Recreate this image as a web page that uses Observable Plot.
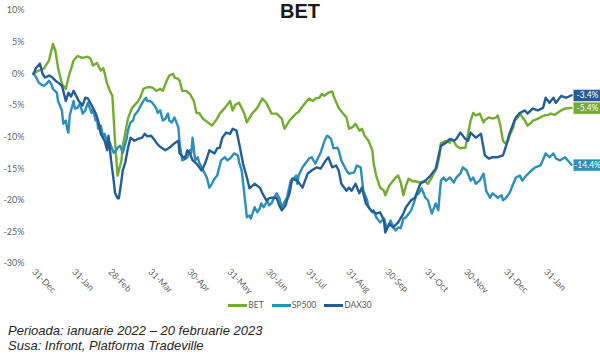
<!DOCTYPE html>
<html>
<head>
<meta charset="utf-8">
<script src="https://cdn.jsdelivr.net/npm/d3@7"></script>
<script src="https://cdn.jsdelivr.net/npm/@observablehq/plot@0.6"></script>
<style>
  body { margin: 0; background: #fff; width: 600px; height: 355px; overflow: hidden; position: relative; }
  #title { position: absolute; top: -1px; left: 0; width: 600px; text-align: center; font: bold 20px "Liberation Sans", Arial, sans-serif; color: #1a1a1a; line-height: 24px; }
  #chart { position: absolute; top: 0; left: 0; }
  #legend { position: absolute; top: 297px; left: 0; width: 600px; height: 16px; display: flex; justify-content: center; align-items: center; gap: 8px; font: 8.5px Lato, "Open Sans", sans-serif; color: #595959; }
  #legend .item { display: flex; align-items: center; }
  #legend .sw { display: inline-block; width: 19px; height: 3px; margin-right: 1px; }
  #caption { position: absolute; top: 323px; left: 8px; font: italic 13px "Liberation Sans", Arial, sans-serif; color: #262626; line-height: 15px; }
</style>
</head>
<body>
<div id="chart"></div>
<div id="title">BET</div>
<div id="legend"></div>
<div id="caption">Perioada: ianuarie 2022 – 20 februarie 2023<br>Susa: Infront, Platforma Tradeville</div>
<script>
// Series names and colours
const seriesNames = ["BET", "SP500", "DAX30"];
const seriesColors = ["#72AD2F", "#2B8FBA", "#255D98"];

// Values: [days since 31-Dec-2021, % change]
const betData = [[0,0],[4,0.5],[8,0.8],[12,2.1],[15,4.7],[17,3.6],[19,0.9],[22,-1.6],[25,-2.4],[27,-0.6],[31,2.1],[34,2.8],[38,2.5],[42,2.7],[44,2.4],[46,1.3],[49,1.7],[52,0.5],[54,0.9],[57,-1.6],[59,-2.7],[61,-3.5],[63,-10.6],[65,-16.1],[68,-13.7],[69,-11.4],[72,-8.2],[73,-7.1],[76,-5.5],[78,-5.0],[81,-4.3],[83,-3.5],[85,-2.4],[87,-2.2],[90,-2.1],[92,-2.2],[95,-2.7],[98,-2.4],[100,-2.7],[103,-1.1],[105,-0.3],[108,0],[109,-0.6],[112,-0.8],[113,-1.1],[115,-2.7],[118,-2.7],[121,-3.2],[124,-4.3],[126,-6.2],[128,-6.2],[131,-7.1],[135,-7.7],[138,-8.2],[142,-7.1],[144,-6.3],[148,-5.4],[152,-4.3],[154,-5.8],[156,-4.9],[159,-4.6],[163,-6.3],[165,-7.7],[169,-6.3],[173,-5.4],[177,-3.9],[180,-4.6],[184,-6.3],[188,-6.3],[192,-7.1],[194,-8.7],[198,-7.4],[203,-6.3],[205,-6.0],[209,-4.9],[213,-3.9],[216,-4.3],[218,-3.9],[221,-3.8],[223,-3.2],[225,-3.5],[228,-3.0],[231,-2.8],[232,-3.5],[236,-5.4],[239,-6.2],[242,-6.9],[244,-8.7],[247,-8.4],[249,-7.9],[252,-9.0],[254,-8.7],[256,-9.8],[259,-10.6],[262,-12.1],[263,-14.2],[265,-16.1],[268,-18.0],[271,-18.5],[272,-19.2],[275,-17.7],[277,-17.2],[280,-16.4],[282,-16.1],[284,-17.2],[286,-19.2],[288,-17.7],[290,-16.6],[293,-17.0],[295,-17.0],[299,-17.2],[303,-17.0],[305,-17.4],[308,-16.4],[310,-15.6],[312,-14.8],[314,-12.9],[315,-11.0],[318,-10.7],[319,-10.6],[322,-10.9],[323,-10.3],[325,-10.7],[327,-11.4],[330,-11.8],[332,-11.7],[334,-11.7],[336,-9.5],[338,-7.4],[340,-6.2],[342,-6.6],[345,-6.3],[348,-7.7],[349,-7.3],[352,-6.9],[355,-7.1],[358,-6.9],[359,-6.6],[361,-8.2],[362,-9.5],[363,-10.6],[365,-11.0],[367,-10.6],[368,-9.8],[371,-8.5],[372,-7.4],[375,-6.8],[376,-6.2],[378,-6.9],[380,-7.4],[382,-8.2],[385,-7.7],[386,-7.4],[388,-7.3],[390,-7.1],[392,-6.9],[395,-6.6],[398,-6.5],[400,-6.3],[403,-6.5],[405,-6.2],[408,-5.8],[411,-5.5],[416,-5.4]];

const sp500Data = [[0,0],[2,-0.5],[4,-1.4],[6,-1.7],[8,-1.9],[10,-1.6],[12,-1.1],[14,-1.7],[15,-2.4],[18,-3.0],[19,-4.3],[22,-5.8],[23,-7.9],[25,-7.4],[26,-8.7],[27,-9.3],[28,-6.6],[31,-4.3],[32,-5.5],[34,-5.4],[36,-4.7],[38,-6.3],[40,-5.8],[42,-4.6],[45,-6.2],[46,-5.5],[48,-7.4],[49,-6.9],[50,-8.7],[52,-8.2],[54,-10.1],[55,-9.5],[58,-11.4],[59,-10.9],[62,-12.5],[64,-12.1],[65,-11.7],[67,-11.4],[69,-12.5],[72,-10.3],[73,-9.0],[75,-7.7],[77,-7.4],[78,-6.6],[81,-5.8],[82,-5.4],[85,-4.3],[87,-3.8],[88,-4.3],[90,-4.3],[92,-4.6],[95,-5.5],[96,-6.2],[98,-5.8],[100,-7.4],[102,-7.1],[104,-6.3],[105,-7.4],[107,-7.7],[109,-6.9],[112,-8.5],[113,-11.0],[115,-13.7],[118,-13.4],[119,-13.2],[121,-12.1],[122,-12.5],[123,-10.1],[125,-13.7],[127,-13.2],[128,-14.0],[130,-14.8],[132,-15.6],[134,-16.4],[136,-18.0],[138,-17.4],[140,-16.6],[142,-16.1],[144,-14.5],[145,-13.7],[148,-13.2],[150,-13.7],[152,-13.4],[154,-12.9],[155,-12.6],[158,-12.9],[159,-14.0],[161,-15.3],[163,-18.9],[165,-22.7],[167,-22.4],[168,-22.9],[171,-21.1],[173,-21.9],[175,-21.3],[176,-20.5],[178,-21.1],[181,-20.0],[182,-20.8],[184,-20.5],[186,-19.6],[188,-18.9],[190,-19.6],[192,-21.1],[194,-20.3],[196,-19.6],[198,-17.7],[199,-16.9],[202,-16.4],[203,-16.1],[204,-17.4],[205,-16.1],[208,-14.8],[209,-14.5],[212,-13.7],[213,-13.4],[215,-13.2],[218,-14.2],[221,-12.9],[222,-12.5],[225,-10.6],[227,-9.8],[228,-9.9],[230,-10.3],[232,-11.8],[235,-11.7],[236,-12.1],[238,-13.7],[242,-15.3],[244,-15.8],[248,-15.6],[250,-14.5],[253,-14.8],[255,-18.5],[258,-20.0],[259,-21.1],[262,-21.9],[263,-21.6],[265,-22.7],[268,-23.5],[271,-22.9],[273,-24.3],[275,-24.0],[276,-23.2],[278,-24.1],[280,-24.8],[282,-24.3],[284,-24.4],[286,-22.9],[288,-22.7],[292,-21.6],[294,-20.5],[296,-19.2],[298,-18.9],[300,-18.1],[303,-19.6],[305,-20.0],[308,-22.1],[311,-20.5],[313,-21.6],[315,-16.9],[317,-16.4],[319,-16.9],[322,-16.4],[325,-17.2],[327,-16.4],[330,-15.8],[332,-14.8],[335,-15.3],[338,-16.9],[340,-16.4],[342,-17.4],[345,-16.9],[348,-15.8],[350,-18.5],[353,-19.6],[355,-18.9],[359,-19.6],[362,-19.2],[363,-20.0],[365,-19.7],[368,-18.9],[371,-17.4],[373,-16.4],[376,-16.1],[378,-16.9],[381,-16.1],[385,-15.3],[388,-14.8],[392,-14.5],[396,-12.6],[399,-13.2],[402,-12.6],[404,-13.4],[407,-13.7],[411,-13.2],[416,-14.4]];

const daxData = [[0,0],[2,0.9],[5,1.6],[7,0],[9,-0.6],[12,-0.3],[14,-0.5],[17,-1.1],[19,-1.4],[22,-1.9],[24,-3.5],[25,-4.3],[27,-3.0],[29,-3.6],[31,-2.7],[33,-3.5],[35,-4.3],[38,-5.0],[40,-3.8],[42,-3.9],[45,-5.0],[48,-6.2],[50,-7.4],[52,-9.5],[55,-10.6],[57,-12.1],[58,-9.8],[60,-13.7],[62,-16.9],[63,-18.8],[65,-19.7],[66,-19.7],[68,-16.9],[69,-15.3],[71,-14.0],[73,-11.8],[75,-10.1],[78,-10.6],[81,-10.3],[84,-10.1],[86,-9.5],[88,-9.9],[91,-9.8],[93,-10.3],[95,-10.9],[97,-11.4],[99,-11.7],[102,-12.1],[105,-11.7],[109,-11.0],[112,-10.6],[113,-12.6],[117,-13.4],[119,-12.1],[121,-12.6],[123,-13.7],[126,-14.2],[130,-15.3],[132,-14.5],[134,-13.4],[136,-12.1],[140,-12.6],[142,-11.8],[144,-11.7],[146,-10.1],[149,-9.3],[152,-9.5],[154,-8.7],[157,-9.0],[159,-11.0],[162,-14.2],[165,-16.4],[167,-18.1],[171,-17.4],[173,-17.7],[175,-18.0],[177,-18.9],[180,-20.0],[182,-19.7],[184,-19.6],[188,-19.6],[190,-20.8],[192,-21.6],[195,-20.8],[196,-20.0],[198,-18.9],[200,-16.6],[204,-16.9],[208,-18.0],[212,-15.8],[215,-15.3],[219,-14.8],[222,-15.0],[226,-13.7],[228,-13.2],[231,-14.8],[234,-14.5],[236,-15.3],[238,-17.4],[242,-18.5],[244,-18.0],[246,-18.5],[249,-17.4],[252,-18.9],[254,-18.0],[257,-20.5],[261,-21.6],[265,-22.1],[268,-21.9],[271,-23.2],[272,-25.1],[275,-23.7],[278,-24.3],[282,-23.5],[286,-22.1],[288,-21.1],[292,-20.0],[295,-19.6],[299,-17.4],[303,-16.9],[307,-16.1],[311,-15.0],[313,-13.2],[315,-11.4],[319,-10.9],[322,-10.3],[325,-10.6],[327,-10.3],[330,-9.3],[334,-10.3],[336,-10.6],[338,-9.3],[342,-10.1],[346,-9.5],[349,-12.9],[352,-13.4],[355,-13.2],[359,-13.2],[363,-12.9],[365,-11.7],[368,-9.5],[371,-7.9],[373,-6.9],[376,-6.2],[380,-5.8],[382,-6.3],[386,-5.5],[390,-5.8],[394,-5.4],[396,-3.8],[399,-4.6],[402,-3.8],[404,-4.6],[408,-3.5],[412,-3.8],[416,-3.4]];

// Axis ticks
const yTicks = [10, 5, 0, -5, -10, -15, -20, -25, -30];
const xTickDates = ["2021-12-31","2022-01-31","2022-02-28","2022-03-31","2022-04-30","2022-05-31","2022-06-30","2022-07-31","2022-08-31","2022-09-30","2022-10-31","2022-11-30","2022-12-31","2023-01-31"];
const xTickLabels = ["31-Dec","31-Jan","28-Feb","31-Mar","30-Apr","31-May","30-Jun","31-Jul","31-Aug","30-Sep","31-Oct","30-Nov","31-Dec","31-Jan"];
const startDate = "2021-12-31";
const endDate = "2023-02-20";

const parse = d3.utcParse("%Y-%m-%d");
const t0 = parse(startDate);
const allSeries = [betData, sp500Data, daxData];
const rows = [];
allSeries.forEach((s, k) => s.forEach(([d, v]) => rows.push({series: seriesNames[k], date: d3.utcDay.offset(t0, d), value: v})));
const lastRows = allSeries.map((s, k) => ({series: seriesNames[k], date: d3.utcDay.offset(t0, s[s.length - 1][0]), value: s[s.length - 1][1]}));
const tickDates = xTickDates.map(parse);
const labelMap = new Map(tickDates.map((d, i) => [+d, xTickLabels[i]]));

const boxSymbol = { draw(ctx) { ctx.rect(-14, -5.5, 28, 11.5); } };
const axisColor = "#666666";

const chart = Plot.plot({
  width: 600,
  height: 296,
  marginLeft: 33,
  marginRight: 29,
  marginTop: 10,
  marginBottom: 33,
  style: { fontFamily: "Lato, 'Open Sans', sans-serif", fontSize: "9px", color: axisColor, background: "transparent", overflow: "visible" },
  x: { type: "utc", domain: [t0, parse(endDate)] },
  y: { domain: [-30, 10] },
  color: { domain: seriesNames, range: seriesColors },
  marks: [
    Plot.axisY({ ticks: yTicks, tickFormat: d => `${d}%`, tickSize: 0, tickPadding: 9, label: null, fill: axisColor }),
    Plot.axisX({ ticks: tickDates, tickFormat: d => labelMap.get(+d), tickSize: 0, tickPadding: 7, tickRotate: 45, label: null, fill: axisColor }),
    Plot.line(rows, { x: "date", y: "value", z: "series", stroke: "series", strokeWidth: 2.4, strokeLinejoin: "round" }),
    Plot.dot(lastRows.filter(d => d.series !== "BET"), { x: "date", y: "value", fill: "series", symbol: boxSymbol, r: 1, stroke: null, dx: 16 }),
    Plot.dot(lastRows.filter(d => d.series === "BET"), { x: "date", y: "value", fill: "series", symbol: boxSymbol, r: 1, stroke: null, dx: 16 }),
    Plot.text(lastRows, { x: "date", y: "value", text: d => `${d.value.toFixed(1)}%`, fill: "white", dx: 16, fontSize: 8.5, textAnchor: "middle" })
  ]
});
document.getElementById("chart").appendChild(chart);

const legend = document.getElementById("legend");
seriesNames.forEach((n, i) => {
  const it = document.createElement("span");
  it.className = "item";
  it.innerHTML = `<span class="sw" style="background:${seriesColors[i]}"></span>${n}`;
  legend.appendChild(it);
});
</script>
</body>
</html>
